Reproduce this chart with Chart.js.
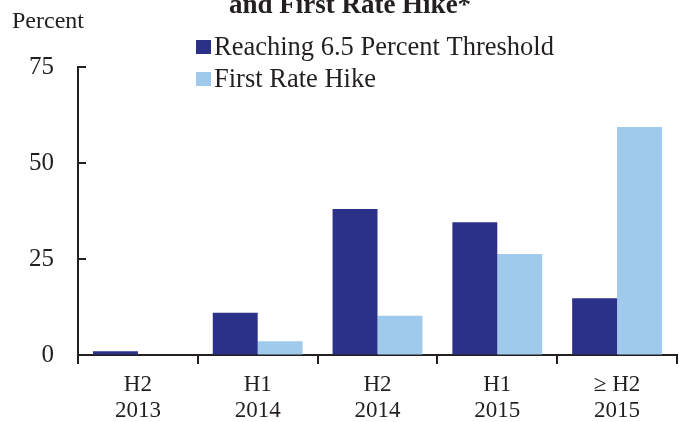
<!DOCTYPE html>
<html>
<head>
<meta charset="utf-8">
<script src="https://cdn.jsdelivr.net/npm/chart.js@4/dist/chart.umd.min.js"></script>
<style>
  html, body { margin: 0; padding: 0; background: #fff; }
  #wrap { width: 679px; height: 422px; position: relative; }
</style>
</head>
<body>
<div id="wrap"><canvas id="grafico"></canvas></div>
<script>
// datos
const categorias = [['H2', '2013'], ['H1', '2014'], ['H2', '2014'], ['H1', '2015'], ['\u2265 H2', '2015']];
const umbral = [1.0, 11.0, 38.0, 34.6, 14.8];
const primeraSubida = [0, 3.6, 10.2, 26.3, 59.4];
const ticksY = [0, 25, 50, 75];
const nombres = ['Reaching 6.5 Percent Threshold', 'First Rate Hike'];
const titulo = 'and First Rate Hike*';

const azulOscuro = '#2b3088';
const azulClaro = '#9fcaeb';
const tinta = '#231f20';
const fuente = 'Liberation Serif';

// textos, leyenda y marcas interiores del eje y
const extras = {
  id: 'extras',
  afterDraw(chart) {
    const ctx = chart.ctx;
    const y = chart.scales.y;
    const area = chart.chartArea;
    ctx.save();
    ctx.fillStyle = tinta;
    ctx.font = 'bold 27px "' + fuente + '"';
    ctx.textAlign = 'center';
    ctx.textBaseline = 'alphabetic';
    ctx.fillText(titulo, 350, 13);

    ctx.font = '24px "' + fuente + '"';
    ctx.textAlign = 'left';
    ctx.fillText('Percent', 12, 28);

    ctx.font = '26.5px "' + fuente + '"';
    chart.data.datasets.forEach((ds, i) => {
      const base = 55 + i * 32;
      ctx.fillStyle = ds.backgroundColor;
      ctx.fillRect(196, base - 15, 15, 14);
      ctx.fillStyle = tinta;
      ctx.fillText(ds.label, 214, base);
    });

    ctx.strokeStyle = tinta;
    ctx.lineWidth = 2;
    ticksY.forEach(v => {
      const py = y.getPixelForValue(v);
      ctx.beginPath();
      ctx.moveTo(area.left, py);
      ctx.lineTo(area.left + 8, py);
      ctx.stroke();
    });
    ctx.beginPath();
    ctx.moveTo(area.left, area.bottom);
    ctx.lineTo(area.left, area.bottom + 8);
    ctx.stroke();
    ctx.restore();
  }
};

new Chart(document.getElementById('grafico'), {
  type: 'bar',
  data: {
    labels: categorias,
    datasets: [
      { label: nombres[0], data: umbral, backgroundColor: azulOscuro },
      { label: nombres[1], data: primeraSubida, backgroundColor: azulClaro }
    ]
  },
  options: {
    responsive: true,
    maintainAspectRatio: false,
    animation: false,
    layout: { padding: { top: 67, right: 2, left: 0, bottom: 0 } },
    datasets: { bar: { categoryPercentage: 0.75, barPercentage: 1.0 } },
    plugins: {
      legend: { display: false },
      tooltip: { enabled: false }
    },
    scales: {
      x: {
        afterFit: s => { s.height = 67; },
        border: { color: tinta, width: 2 },
        grid: { drawOnChartArea: false, drawTicks: true, tickLength: 9, color: tinta, lineWidth: 2 },
        ticks: { color: tinta, padding: 7, font: { family: fuente, size: 23, lineHeight: 1.17 }, maxRotation: 0 }
      },
      y: {
        min: 0,
        max: 75,
        afterFit: s => { s.width = 78; },
        afterBuildTicks: s => { s.ticks = ticksY.map(v => ({ value: v })); },
        border: { color: tinta, width: 2 },
        grid: { display: true, drawOnChartArea: false, drawTicks: false },
        ticks: { color: tinta, padding: 24, font: { family: fuente, size: 25 } }
      }
    }
  },
  plugins: [extras]
});
</script>
</body>
</html>
